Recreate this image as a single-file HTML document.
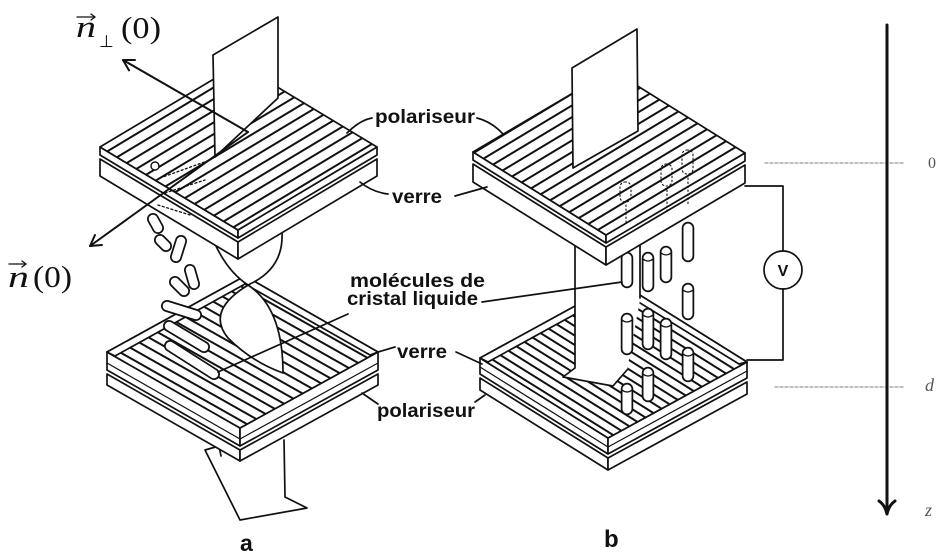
<!DOCTYPE html>
<html><head><meta charset="utf-8"><style>html,body{margin:0;padding:0;background:#fff;width:949px;height:558px;overflow:hidden}svg{display:block}</style></head><body>
<svg width="949" height="558" viewBox="0 0 949 558" xmlns="http://www.w3.org/2000/svg">
<defs>
<pattern id="sTa" patternUnits="userSpaceOnUse" width="40" height="10" patternTransform="rotate(-31)"><rect width="40" height="10" fill="#fff"/><rect y="4" width="40" height="2" fill="#111"/></pattern>
<pattern id="sBa" patternUnits="userSpaceOnUse" width="40" height="9" patternTransform="rotate(29.5)"><rect width="40" height="9" fill="#fff"/><rect y="3.5" width="40" height="2" fill="#111"/></pattern>
<pattern id="sBb" patternUnits="userSpaceOnUse" width="40" height="8" patternTransform="rotate(32)"><rect width="40" height="8" fill="#fff"/><rect y="3" width="40" height="2" fill="#111"/></pattern>
</defs>
<rect width="949" height="558" fill="#fff"/>
<g fill="none" stroke="#111" stroke-width="1.7" stroke-linejoin="round" stroke-linecap="round">

<!-- ===== Panel a ===== -->
<path d="M284,440 L285,497 L307,508 L240,520 L205,450 L219,446 L221,456"/>
<polygon points="107,374 240,450 240,461 107,385" fill="#fff"/>
<polygon points="240,450 378,374 378,385 240,461" fill="#fff"/>
<polygon points="107,352 240,428 240,446 107,370" fill="#fff"/>
<polygon points="240,428 378,352 378,370 240,446" fill="#fff"/>
<line x1="107" y1="363" x2="240" y2="439" stroke-width="1.2"/>
<line x1="240" y1="439" x2="378" y2="363" stroke-width="1.2"/>
<polygon points="107,352 240,428 378,352 245,276" fill="url(#sBa)"/>
<polygon points="107,352 245,276 245,284 115,356" fill="#fff"/>
<polygon points="245,276 378,352 370,355 245,284" fill="#fff"/>
<path d="M215,244 Q228,272 248,285 Q205,310 228,338 Q252,362 283,373 Q283,308 248,285 Q284,268 282,232 Z" fill="#fff" stroke="none"/>
<path d="M215,244 Q228,272 248,285 Q283,308 283,373"/>
<path d="M282,232 Q284,268 250,284 Q205,310 228,338 Q252,362 283,373"/>
<g stroke="#111" stroke-width="12">
<line x1="153" y1="219" x2="158" y2="228"/><line x1="160" y1="240" x2="166" y2="246"/>
<line x1="181" y1="241" x2="176" y2="257"/><line x1="190" y1="270" x2="194" y2="284"/>
<line x1="175" y1="282" x2="184" y2="291"/><line x1="167" y1="306" x2="196" y2="315"/>
<line x1="169" y1="326" x2="204" y2="347"/><line x1="170" y1="346" x2="214" y2="374"/>
</g>
<g stroke="#fff" stroke-width="8.5">
<line x1="153" y1="219" x2="158" y2="228"/><line x1="160" y1="240" x2="166" y2="246"/>
<line x1="181" y1="241" x2="176" y2="257"/><line x1="190" y1="270" x2="194" y2="284"/>
<line x1="175" y1="282" x2="184" y2="291"/><line x1="167" y1="306" x2="196" y2="315"/>
<line x1="169" y1="326" x2="204" y2="347"/><line x1="170" y1="346" x2="214" y2="374"/>
</g>
<line x1="348" y1="314" x2="218" y2="372"/>
<polygon points="100,159 238,242 238,259 100,176" fill="#fff"/>
<polygon points="238,242 377,159 377,176 238,259" fill="#fff"/>
<polygon points="100,147 238,230 238,238 100,155" fill="#fff"/>
<polygon points="238,230 377,147 377,155 238,238" fill="#fff"/>
<polygon points="100,147 238,230 377,147 239,64" fill="url(#sTa)"/>
<g stroke-width="1.3" stroke-dasharray="2 2.5">
<line x1="160" y1="178" x2="210" y2="160"/><line x1="165" y1="193" x2="205" y2="180"/><line x1="158" y1="205" x2="190" y2="215"/>
</g>
<circle cx="155" cy="166" r="4" fill="#fff" stroke-width="1.4"/>
<polygon points="213,55 278,17 278,98 215,157" fill="#fff"/>
<g stroke-width="2">
<line x1="248" y1="132" x2="123" y2="60"/><polyline points="129,70.4 123,60 135,60"/>
<line x1="248" y1="132" x2="90" y2="246"/><polyline points="102,245 90,246 95,235"/>
</g>

<!-- ===== Panel b ===== -->
<polygon points="480,378 608,458 608,470 480,390" fill="#fff"/>
<polygon points="608,458 747,382 747,394 608,470" fill="#fff"/>
<polygon points="480,358 608,438 608,454 480,374" fill="#fff"/>
<polygon points="608,438 747,362 747,378 608,454" fill="#fff"/>
<line x1="480" y1="367" x2="608" y2="447" stroke-width="1.2"/>
<line x1="608" y1="447" x2="747" y2="371" stroke-width="1.2"/>
<polygon points="480,358 608,438 747,362 619,282" fill="url(#sBb)"/>
<polygon points="480,358 619,282 619,290 488,362" fill="#fff"/>
<polygon points="619,282 747,362 739,364 619,290" fill="#fff"/>
<polygon points="575,240 606,262 640,240 640,300 627,370 613,386 563,377 575,368" fill="#fff" stroke="none"/>
<polyline points="575,246 575,368 563,377 613,386 627,370"/>
<line x1="640" y1="246" x2="640" y2="298"/>
<g stroke="#111" stroke-width="12.5">
<line x1="627" y1="258" x2="627" y2="282"/><line x1="648" y1="258" x2="648" y2="286"/>
<line x1="666" y1="252" x2="666" y2="277"/><line x1="688" y1="228" x2="688" y2="256"/>
<line x1="688" y1="289" x2="688" y2="314"/><line x1="627" y1="319" x2="627" y2="349"/>
<line x1="648" y1="314" x2="648" y2="344"/><line x1="666" y1="324" x2="666" y2="354"/>
<line x1="688" y1="353" x2="688" y2="376"/><line x1="627" y1="389" x2="627" y2="409"/>
<line x1="648" y1="373" x2="648" y2="396"/>
</g>
<g stroke="#fff" stroke-width="9">
<line x1="627" y1="258" x2="627" y2="282"/><line x1="648" y1="258" x2="648" y2="286"/>
<line x1="666" y1="252" x2="666" y2="277"/><line x1="688" y1="228" x2="688" y2="256"/>
<line x1="688" y1="289" x2="688" y2="314"/><line x1="627" y1="319" x2="627" y2="349"/>
<line x1="648" y1="314" x2="648" y2="344"/><line x1="666" y1="324" x2="666" y2="354"/>
<line x1="688" y1="353" x2="688" y2="376"/><line x1="627" y1="389" x2="627" y2="409"/>
<line x1="648" y1="373" x2="648" y2="396"/>
</g>
<g stroke-width="1.2">
<path d="M643,259 Q648,263 653,259"/><path d="M661,253 Q666,257 671,253"/>
<path d="M683,290 Q688,294 693,290"/><path d="M622,320 Q627,324 632,320"/>
<path d="M643,315 Q648,319 653,315"/><path d="M661,325 Q666,329 671,325"/>
<path d="M683,354 Q688,358 693,354"/><path d="M622,390 Q627,394 632,390"/>
<path d="M643,374 Q648,378 653,374"/>
</g>
<line x1="482" y1="302" x2="622" y2="282"/>
<polygon points="473,164 606,247 606,265 473,182" fill="#fff"/>
<polygon points="606,247 745,165 745,183 606,265" fill="#fff"/>
<polygon points="473,152 606,235 606,243 473,160" fill="#fff"/>
<polygon points="606,235 745,153 745,161 606,243" fill="#fff"/>
<polygon points="473,152 606,235 745,153 612,70" fill="url(#sTa)"/>
<g stroke-width="1.1" stroke-dasharray="1.5 2.5">
<rect x="620" y="182" width="11" height="20" rx="5"/><rect x="661" y="164" width="11" height="22" rx="5"/><rect x="682" y="150" width="11" height="24" rx="5"/>
<line x1="626" y1="205" x2="626" y2="225"/><line x1="667" y1="190" x2="667" y2="212"/><line x1="688" y1="178" x2="688" y2="205"/>
</g>
<polygon points="572,68 637,29 638,131 573,168" fill="#fff"/>
<polyline points="745,186 783,186 783,251"/>
<circle cx="783" cy="270" r="19" fill="#fff"/>
<polyline points="783,289 783,360 747,360"/>

<!-- leaders -->
<path d="M347,133 Q360,120 372,118"/><path d="M477,118 Q492,122 503,134"/>
<path d="M360,182 Q372,192 388,194"/><path d="M455,196 L487,187"/>
<path d="M378,352 L395,347"/><path d="M456,352 L482,364"/>
<path d="M362,393 Q372,400 378,404"/><path d="M475,402 L485,395"/>

<g stroke="#999" stroke-width="1.3" stroke-dasharray="3 2">
<line x1="765" y1="163" x2="905" y2="163"/><line x1="775" y1="387" x2="903" y2="387"/>
</g>
<line x1="887" y1="25" x2="887" y2="510" stroke-width="3"/>
<path d="M879,501 Q885,505 887,514 Q889,505 895,501" stroke-width="3"/>

<g stroke-width="1.3">
<line x1="77" y1="17" x2="95" y2="17"/><polyline points="91,14 95,17 91,20"/>
<line x1="9" y1="264" x2="26" y2="264"/><polyline points="22,261 26,264 22,267"/>
</g>
</g>

<g font-family="'Liberation Sans', Arial, sans-serif" font-weight="bold" fill="#111" font-size="19">
<text x="375" y="123" textLength="100" lengthAdjust="spacingAndGlyphs">polariseur</text>
<text x="392" y="203" textLength="50" lengthAdjust="spacingAndGlyphs">verre</text>
<text x="350" y="287" textLength="135" lengthAdjust="spacingAndGlyphs">molécules de</text>
<text x="347" y="305" textLength="131" lengthAdjust="spacingAndGlyphs">cristal liquide</text>
<text x="397" y="358" textLength="50" lengthAdjust="spacingAndGlyphs">verre</text>
<text x="377" y="417" textLength="98" lengthAdjust="spacingAndGlyphs">polariseur</text>
<text x="240" y="551" font-size="23">a</text>
<text x="604" y="547" font-size="24">b</text>
<text x="783" y="276" font-size="16" text-anchor="middle">V</text>
</g>

<g font-family="'Liberation Serif', 'DejaVu Serif', serif" fill="#111">
<text x="76" y="37" font-size="31" font-style="italic" textLength="20" lengthAdjust="spacingAndGlyphs">n</text>
<text x="99" y="47" font-size="17" font-family="'DejaVu Sans', sans-serif">⊥</text>
<text x="121" y="38" font-size="31" textLength="40" lengthAdjust="spacingAndGlyphs">(0)</text>
<text x="8" y="287" font-size="31" font-style="italic" textLength="21" lengthAdjust="spacingAndGlyphs">n</text>
<text x="33" y="287" font-size="31" textLength="39" lengthAdjust="spacingAndGlyphs">(0)</text>
<text x="928" y="168" font-size="16" fill="#555">0</text>
<text x="925" y="391" font-size="18" font-style="italic" fill="#555">d</text>
<text x="925" y="516" font-size="18" font-style="italic" fill="#555">z</text>
</g>
</svg>
</body></html>
